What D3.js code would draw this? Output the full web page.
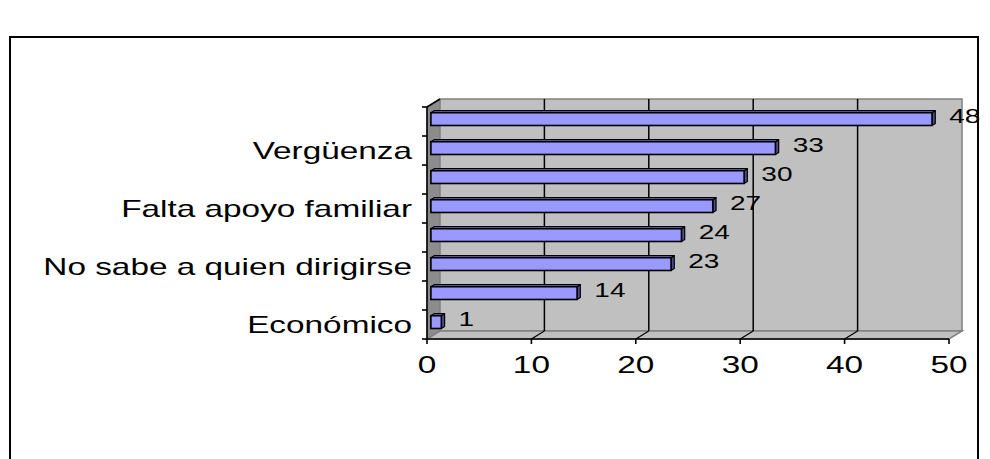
<!DOCTYPE html>
<html>
<head>
<meta charset="utf-8">
<script src="https://cdn.jsdelivr.net/npm/d3@7/dist/d3.min.js"></script>
<style>
    body { margin: 0; background: #fff; }
    text { font-family: "Liberation Sans", Arial, sans-serif; fill: #000; }
</style>
</head>
<body>
<svg id="chart" width="990" height="459"></svg>
<script>
// categories top to bottom; the chart only prints every second name
var categories = ['', 'Vergüenza', '', 'Falta apoyo familiar', '', 'No sabe a quien dirigirse', '', 'Económico'];
var values = [48, 33, 30, 27, 24, 23, 14, 1];
var xTicks = [0, 10, 20, 30, 40, 50];

var PLOT = {
    LEFT: 427,
    RIGHT: 949,
    TOP: 107,
    BOTTOM: 339
};
var DEPTH = { X: 13, Y: -8 };     // back wall offset
var BAR_Z0 = 0.3, BAR_Z1 = 0.55;  // bar depth as fraction of DEPTH
var STRETCH = 1.45;               // text in the picture is wide

var svg = d3.select('#chart');

var x = d3.scaleLinear()
    .domain([0, 50])
    .range([PLOT.LEFT, PLOT.RIGHT]);

var y = d3.scaleBand()
    .domain(d3.range(categories.length))
    .range([PLOT.TOP, PLOT.BOTTOM])
    .paddingInner(0.56)
    .paddingOuter(0.28);

var step = y.step();

function pts(arr) {
    return arr.map(function (p) { return p.join(','); }).join(' ');
}

// frame round the chart
svg.append('rect')
    .attr('x', 10)
    .attr('y', 37)
    .attr('width', 968)
    .attr('height', 460)
    .attr('fill', 'none')
    .attr('stroke', '#000')
    .attr('stroke-width', 2);

var walls = svg.append('g');

// side wall
walls.append('polygon')
    .attr('points', pts([
        [PLOT.LEFT, PLOT.TOP],
        [PLOT.LEFT + DEPTH.X, PLOT.TOP + DEPTH.Y],
        [PLOT.LEFT + DEPTH.X, PLOT.BOTTOM + DEPTH.Y],
        [PLOT.LEFT, PLOT.BOTTOM]
    ]))
    .attr('fill', '#8c8c8c')
    .attr('stroke', '#808080');

// back wall
walls.append('polygon')
    .attr('points', pts([
        [PLOT.LEFT + DEPTH.X, PLOT.TOP + DEPTH.Y],
        [PLOT.RIGHT + DEPTH.X, PLOT.TOP + DEPTH.Y],
        [PLOT.RIGHT + DEPTH.X, PLOT.BOTTOM + DEPTH.Y],
        [PLOT.LEFT + DEPTH.X, PLOT.BOTTOM + DEPTH.Y]
    ]))
    .attr('fill', '#c0c0c0')
    .attr('stroke', '#808080')
    .attr('stroke-width', 1.5);

// floor
walls.append('polygon')
    .attr('points', pts([
        [PLOT.LEFT, PLOT.BOTTOM],
        [PLOT.LEFT + DEPTH.X, PLOT.BOTTOM + DEPTH.Y],
        [PLOT.RIGHT + DEPTH.X, PLOT.BOTTOM + DEPTH.Y],
        [PLOT.RIGHT, PLOT.BOTTOM]
    ]))
    .attr('fill', '#c0c0c0')
    .attr('stroke', '#808080')
    .attr('stroke-width', 1.5);

// gridlines on back wall and floor
var inner = xTicks.slice(1, -1);
walls.selectAll('line.grid')
    .data(inner)
    .enter()
    .append('line')
    .attr('class', 'grid')
    .attr('x1', function (d) { return x(d) + DEPTH.X; })
    .attr('x2', function (d) { return x(d) + DEPTH.X; })
    .attr('y1', PLOT.TOP + DEPTH.Y)
    .attr('y2', PLOT.BOTTOM + DEPTH.Y)
    .attr('stroke', '#000')
    .attr('stroke-width', 1.5);

walls.selectAll('line.floor')
    .data(inner)
    .enter()
    .append('line')
    .attr('class', 'floor')
    .attr('x1', function (d) { return x(d); })
    .attr('x2', function (d) { return x(d) + DEPTH.X; })
    .attr('y1', PLOT.BOTTOM)
    .attr('y2', PLOT.BOTTOM + DEPTH.Y)
    .attr('stroke', '#000')
    .attr('stroke-width', 1.2);

// axes
var axes = svg.append('g').attr('stroke', '#000').attr('stroke-width', 1.6);
axes.append('line')
    .attr('x1', PLOT.LEFT).attr('x2', PLOT.RIGHT)
    .attr('y1', PLOT.BOTTOM).attr('y2', PLOT.BOTTOM);
axes.append('line')
    .attr('x1', PLOT.LEFT).attr('x2', PLOT.LEFT)
    .attr('y1', PLOT.TOP).attr('y2', PLOT.BOTTOM);
axes.append('line')
    .attr('x1', PLOT.LEFT).attr('x2', PLOT.LEFT + DEPTH.X)
    .attr('y1', PLOT.TOP).attr('y2', PLOT.TOP + DEPTH.Y);

axes.selectAll('line.xtick')
    .data(xTicks)
    .enter()
    .append('line')
    .attr('class', 'xtick')
    .attr('x1', function (d) { return x(d); })
    .attr('x2', function (d) { return x(d); })
    .attr('y1', PLOT.BOTTOM)
    .attr('y2', PLOT.BOTTOM + 5);

axes.selectAll('line.ytick')
    .data(d3.range(categories.length + 1))
    .enter()
    .append('line')
    .attr('class', 'ytick')
    .attr('x1', PLOT.LEFT - 5)
    .attr('x2', PLOT.LEFT)
    .attr('y1', function (d) { return PLOT.TOP + d * step; })
    .attr('y2', function (d) { return PLOT.TOP + d * step; });

// x tick labels
svg.selectAll('text.xlabel')
    .data(xTicks)
    .enter()
    .append('text')
    .attr('class', 'xlabel')
    .attr('transform', function (d) {
        return 'translate(' + x(d) + ',' + (PLOT.BOTTOM + 26) + ') scale(' + STRETCH + ',1)';
    })
    .attr('text-anchor', 'middle')
    .attr('dy', '0.36em')
    .style('font-size', '23px')
    .text(function (d) { return d; });

// category labels
svg.selectAll('text.ylabel')
    .data(categories)
    .enter()
    .append('text')
    .attr('class', 'ylabel')
    .attr('transform', function (d, i) {
        return 'translate(' + (PLOT.LEFT - 15) + ',' + (PLOT.TOP + (i + 0.5) * step) + ') scale(' + STRETCH + ',1)';
    })
    .attr('text-anchor', 'end')
    .attr('dy', '0.36em')
    .style('font-size', '23px')
    .text(function (d) { return d; });

// 3d bars
var fx = DEPTH.X * BAR_Z0, fy = DEPTH.Y * BAR_Z0;
var bx = DEPTH.X * (BAR_Z1 - BAR_Z0), by = DEPTH.Y * (BAR_Z1 - BAR_Z0);

var bars = svg.selectAll('g.bar')
    .data(values)
    .enter()
    .append('g')
    .attr('class', 'bar')
    .attr('transform', function (d, i) {
        return 'translate(' + fx + ',' + (y(i) + fy) + ')';
    });

bars.append('polygon')
    .attr('points', function (d) {
        var x1 = x(d), h = y.bandwidth();
        return pts([[x1, 0], [x1 + bx, by], [x1 + bx, h + by], [x1, h]]);
    })
    .attr('fill', '#4d4d8c')
    .attr('stroke', '#000')
    .attr('stroke-width', 1.2)
    .attr('stroke-linejoin', 'round');

bars.append('polygon')
    .attr('points', function (d) {
        var x0 = x(0), x1 = x(d);
        return pts([[x0, 0], [x0 + bx, by], [x1 + bx, by], [x1, 0]]);
    })
    .attr('fill', '#7b7bd6')
    .attr('stroke', '#000')
    .attr('stroke-width', 1.2)
    .attr('stroke-linejoin', 'round');

bars.append('rect')
    .attr('x', x(0))
    .attr('y', 0)
    .attr('width', function (d) { return x(d) - x(0); })
    .attr('height', y.bandwidth())
    .attr('fill', '#9999ff')
    .attr('stroke', '#000')
    .attr('stroke-width', 1.6);

// value labels
bars.append('text')
    .attr('transform', function (d) {
        return 'translate(' + (x(d) + bx + 14) + ',' + (y.bandwidth() / 2 - 3) + ') scale(1.4,1)';
    })
    .attr('dy', '0.36em')
    .style('font-size', '20px')
    .text(function (d) { return d; });
</script>
</body>
</html>
